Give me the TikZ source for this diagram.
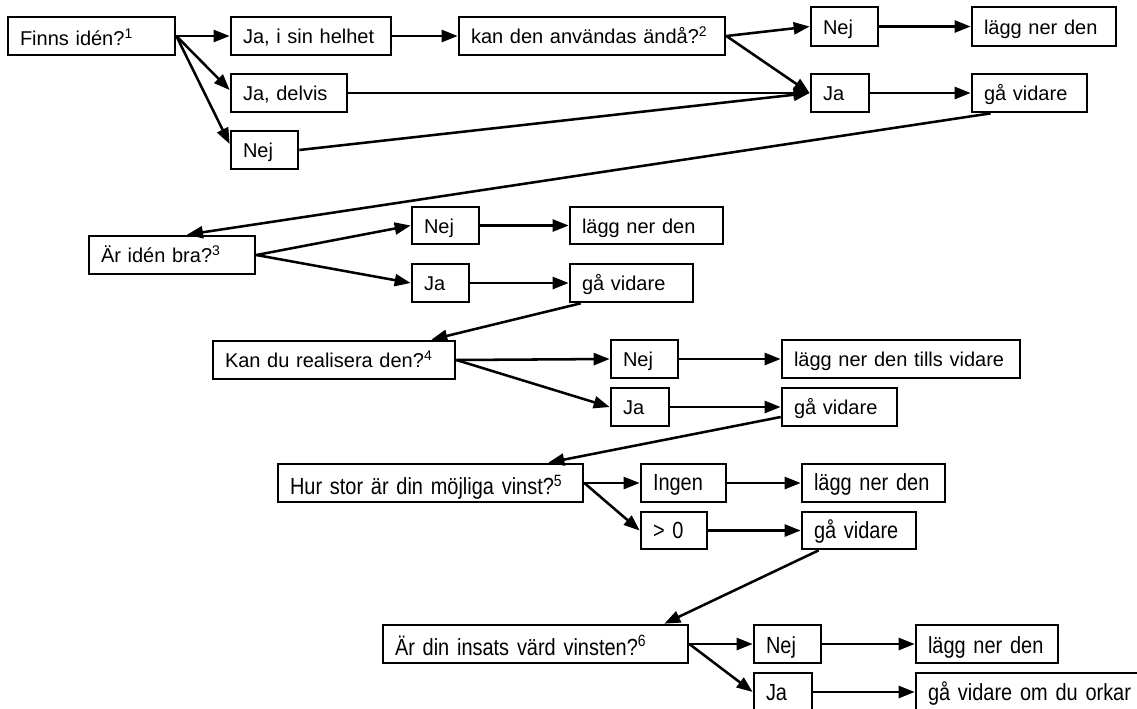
\documentclass[tikz,border=0pt]{standalone}
\usepackage{fontspec}
\setmainfont{Liberation Sans}
\newfontfamily\narrowfont[FakeStretch=0.855]{Liberation Sans}
\usetikzlibrary{arrows.meta}
\tikzset{
  box/.style={draw, line width=2pt, rectangle, inner xsep=9pt, inner ysep=0pt, align=left,
    font=\fontsize{15pt}{18pt}\selectfont},
  nbox/.style={box, font=\narrowfont\fontsize{17.5pt}{20pt}\selectfont},
  conn/.style={line width=1.9pt, -{Triangle[length=12pt,width=9pt]}}
}
% name, x1, y1, x2, y2, baseline offset (px), style, text
\newcommand\bx[8]{%
  \node[#7, minimum width=\dimexpr(#4pt-#2pt)*3/4\relax,
    minimum height=\dimexpr(#5pt-#3pt)*3/4\relax,
    text width=\dimexpr(#4pt-#2pt-24pt)*3/4\relax,
    text height=\dimexpr #6pt*3/2\relax, text depth=0pt]
    (#1) at ({(#2+#4)/2},{(#3+#5)/2}) {#8};}
\begin{document}
\begin{tikzpicture}[x=0.75pt,y=-0.75pt]
\useasboundingbox (0,0) rectangle (1137,708);
\clip (0,0) rectangle (1137,708);
% row 1
\bx{finns}{8}{17}{175}{55}{9}{box}{Finns idén?\textsuperscript{1}}
\bx{jahel}{231}{17}{391}{55}{7.5}{box}{Ja, i sin helhet}
\bx{jadel}{231}{74}{347}{112}{7.5}{box}{Ja, delvis}
\bx{nej1}{231}{131}{298}{169}{7.5}{box}{Nej}
\bx{kan}{459}{17}{725}{55}{7.5}{box}{kan den användas ändå?\textsuperscript{2}}
\bx{nej2}{811}{7}{878}{46}{7.5}{box}{Nej}
\bx{lagg1}{972}{7}{1116}{46}{7.5}{box}{lägg ner den}
\bx{ja2}{811}{74}{869}{112}{7.5}{box}{Ja}
\bx{ga1}{972}{74}{1087}{112}{7.5}{box}{gå vidare}
% row 2
\bx{arbra}{89}{236}{255}{274}{7.5}{box}{Är idén bra?\textsuperscript{3}}
\bx{nej3}{412}{207}{479}{244}{7.5}{box}{Nej}
\bx{lagg2}{570}{207}{723}{244}{7.5}{box}{lägg ner den}
\bx{ja3}{412}{264}{469}{302}{7.5}{box}{Ja}
\bx{ga2}{570}{264}{693}{302}{7.5}{box}{gå vidare}
% row 3
\bx{kan2}{213}{341}{455}{379}{7.5}{box}{Kan du realisera den?\textsuperscript{4}}
\bx{nej4}{611}{340}{678}{378}{7.5}{box}{Nej}
\bx{lagg3}{782}{340}{1020}{378}{7.5}{box}{lägg ner den tills vidare}
\bx{ja4}{611}{388}{669}{426}{7.5}{box}{Ja}
\bx{ga3}{782}{388}{897}{426}{7.5}{box}{gå vidare}
% row 4
\bx{hur}{278}{464}{583}{502}{11.5}{nbox}{Hur stor är din möjliga vinst?\textsuperscript{5}}
\bx{ingen}{641}{464}{726}{502}{7.5}{nbox}{Ingen}
\bx{lagg4}{802}{464}{945}{502}{7.5}{nbox}{lägg ner den}
\bx{gt}{641}{512}{707}{549}{7.5}{nbox}{> 0}
\bx{ga4}{802}{512}{916}{549}{7.5}{nbox}{gå vidare}
% row 5
\bx{insats}{383}{625}{688}{663}{11}{nbox}{Är din insats värd vinsten?\textsuperscript{6}}
\bx{nej5}{754}{625}{821}{663}{9}{nbox}{Nej}
\bx{lagg5}{916}{625}{1058}{663}{9}{nbox}{lägg ner den}
\bx{ja5}{754}{673}{812}{711}{8}{nbox}{Ja}
\bx{orkar}{916}{673}{1160}{711}{8}{nbox}{gå vidare om du orkar}
% connectors
\draw[conn] (finns.east) -- (jahel.west);
\draw[conn] (finns.east) -- ([yshift=2.25pt]jadel.west);
\draw[conn] (finns.east) -- ([yshift=4.5pt]nej1.west);
\draw[conn] (jahel.east) -- (kan.west);
\draw[conn] (kan.east) -- (nej2.west);
\draw[conn] (kan.east) -- (ja2.west);
\draw[conn] (jadel.east) -- (ja2.west);
\draw[conn] (nej1.east) -- (ja2.west);
\draw[conn] (ja2.east) -- (ga1.west);
\draw[conn] (nej2.east) -- (lagg1.west);
\draw[conn] ([xshift=15pt]ga1.south west) -- ([xshift=11.25pt]arbra.north);
\draw[conn] (arbra.east) -- (nej3.west);
\draw[conn] (arbra.east) -- (ja3.west);
\draw[conn] (nej3.east) -- (lagg2.west);
\draw[conn] (ja3.east) -- (ga2.west);
\draw[conn] ([xshift=9pt]ga2.south west) -- ([xshift=-18.75pt]kan2.north east);
\draw[conn] (kan2.east) -- (nej4.west);
\draw[conn] (kan2.east) -- (ja4.west);
\draw[conn] (nej4.east) -- (lagg3.west);
\draw[conn] (ja4.east) -- (ga3.west);
\draw[conn] ([yshift=-7.5pt]ga3.west) -- ([xshift=-27pt]hur.north east);
\draw[conn] (hur.east) -- (ingen.west);
\draw[conn] (hur.east) -- (gt.west);
\draw[conn] (ingen.east) -- (lagg4.west);
\draw[conn] (gt.east) -- (ga4.west);
\draw[conn] ([xshift=13.5pt]ga4.south west) -- ([xshift=-18.75pt]insats.north east);
\draw[conn] (insats.east) -- (nej5.west);
\draw[conn] (insats.east) -- (ja5.west);
\draw[conn] (nej5.east) -- (lagg5.west);
\draw[conn] (ja5.east) -- (orkar.west);
\end{tikzpicture}
\end{document}
